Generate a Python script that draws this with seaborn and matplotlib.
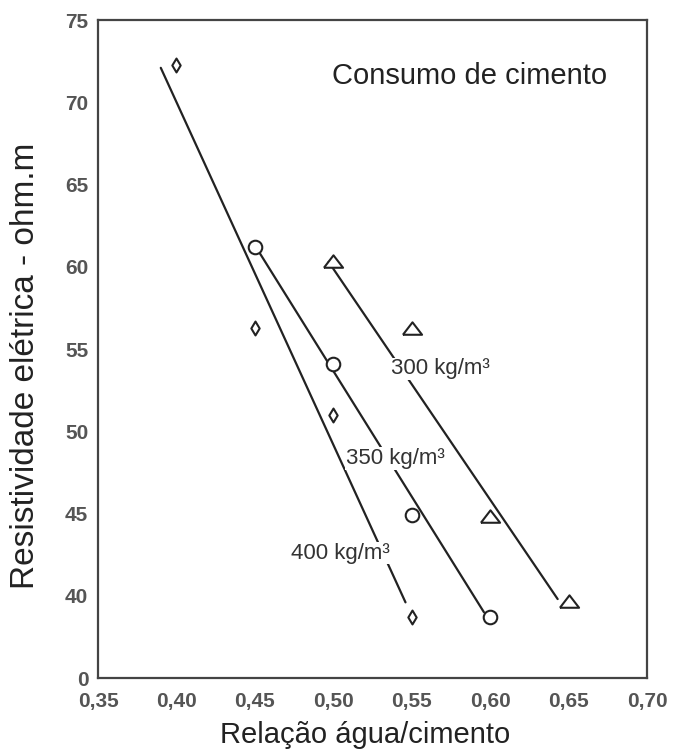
import numpy as np
import pandas as pd
import matplotlib
matplotlib.use("Agg")
import matplotlib.pyplot as plt
import seaborn as sns

# ---- data ----
wc_400 = [0.40, 0.45, 0.50, 0.55]
res_400 = [72.3, 56.3, 51.0, 38.7]
wc_350 = [0.45, 0.50, 0.55, 0.60]
res_350 = [61.2, 54.1, 44.9, 38.7]
wc_300 = [0.50, 0.55, 0.60, 0.65]
res_300 = [60.3, 56.2, 44.8, 39.6]
# fitted trend lines (end points)
line_400_x = [0.39, 0.546]
line_400_y = [72.1, 39.6]
line_350_x = [0.452, 0.596]
line_350_y = [61.0, 39.0]
line_300_x = [0.497, 0.643]
line_300_y = [60.3, 39.8]
series_labels = ["400 kg/m³", "350 kg/m³", "300 kg/m³"]
x_ticks = [0.35, 0.40, 0.45, 0.50, 0.55, 0.60, 0.65, 0.70]
x_tick_labels = ["0,35", "0,40", "0,45", "0,50", "0,55", "0,60", "0,65", "0,70"]
y_ticks = [35, 40, 45, 50, 55, 60, 65, 70, 75]
y_tick_labels = ["0", "40", "45", "50", "55", "60", "65", "70", "75"]

sns.set_theme(style="white")
plt.rcParams['font.family'] = ['Liberation Sans', 'DejaVu Sans']

df = pd.concat([
    pd.DataFrame({"wc": wc_400, "res": res_400, "serie": series_labels[0]}),
    pd.DataFrame({"wc": wc_350, "res": res_350, "serie": series_labels[1]}),
    pd.DataFrame({"wc": wc_300, "res": res_300, "serie": series_labels[2]}),
])
fit_df = pd.concat([
    pd.DataFrame({"wc": line_400_x, "res": line_400_y, "serie": series_labels[0]}),
    pd.DataFrame({"wc": line_350_x, "res": line_350_y, "serie": series_labels[1]}),
    pd.DataFrame({"wc": line_300_x, "res": line_300_y, "serie": series_labels[2]}),
])

fig = plt.figure(figsize=(6.77, 7.51), dpi=100)
ax = fig.add_axes([0.1448, 0.0972, 0.811, 0.876])

tri = [(-1.0, -0.55), (1.0, -0.55), (0.0, 0.75), (-1.0, -0.55)]
markers = {series_labels[0]: "d", series_labels[1]: "o", series_labels[2]: tri}
sizes = {series_labels[0]: 50, series_labels[1]: 95, series_labels[2]: 190}

sns.lineplot(data=fit_df, x="wc", y="res", units="serie", estimator=None,
             color="#222222", lw=1.6, ax=ax, legend=False, zorder=2)

for lab in series_labels:
    sub = df[df["serie"] == lab]
    sns.scatterplot(data=sub, x="wc", y="res", marker=markers[lab], s=sizes[lab],
                    facecolor="white", edgecolor="#222222", linewidth=1.5,
                    ax=ax, legend=False, zorder=4)

# line labels with white boxes to break the lines
box = dict(facecolor="white", edgecolor="none", pad=0.5)
ax.text(0.5365, 53.8, series_labels[2], fontsize=16, color="#333333", ha="left", va="center", bbox=box, zorder=3)
ax.text(0.508, 48.35, series_labels[1], fontsize=16, color="#333333", ha="left", va="center", bbox=box, zorder=3)
ax.text(0.473, 42.6, series_labels[0], fontsize=16, color="#333333", ha="left", va="center", bbox=box, zorder=3)

ax.text(0.587, 71.6, "Consumo de cimento", fontsize=21, color="#222222", ha="center", va="center")

ax.set_xlim(0.35, 0.70)
ax.set_ylim(35, 75)
ax.set_xticks(x_ticks)
ax.set_xticklabels(x_tick_labels, fontsize=15, color="#555555", fontweight="bold")
ax.set_yticks(y_ticks)
ax.set_yticklabels(y_tick_labels, fontsize=15, color="#555555", fontweight="bold")
ax.tick_params(axis="both", direction="in", length=7, width=1.0, color="#555555")
ax.tick_params(axis="x", pad=10)
ax.tick_params(axis="y", pad=7)
for t in ax.xaxis.get_major_ticks():
    if t.get_loc() in (0.35, 0.70):
        t.tick1line.set_visible(False)
for t in ax.yaxis.get_major_ticks():
    if t.get_loc() in (35, 75):
        t.tick1line.set_visible(False)

for s in ax.spines.values():
    s.set_color("#444444")
    s.set_linewidth(1.6)

ax.set_xlabel("Relação água/cimento", fontsize=21, color="#222222")
ax.xaxis.set_label_coords(0.487, -0.066)
ax.set_ylabel("Resistividade elétrica - ohm.m", fontsize=24, color="#222222")
ax.yaxis.set_label_coords(-0.104, 0.474)

fig.savefig("out.png", dpi=100)
